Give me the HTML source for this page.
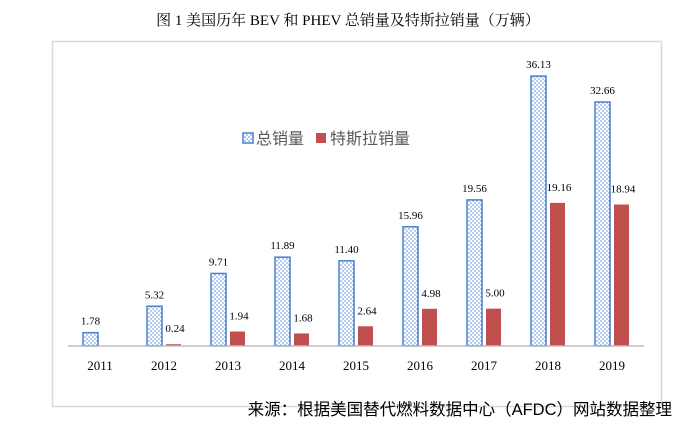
<!DOCTYPE html>
<html><head><meta charset="utf-8"><style>
body{margin:0;background:#fff;width:696px;height:432px;overflow:hidden;font-family:"Liberation Serif","Noto Serif CJK SC",serif;}
</style></head><body>
<svg width="696" height="432" xmlns="http://www.w3.org/2000/svg">
<defs>
<pattern id="dots" width="4" height="4" patternUnits="userSpaceOnUse">
<rect width="4" height="4" fill="#fff"/>
<circle cx="1" cy="1" r="0.7" fill="#4a7fd0"/>
<circle cx="3" cy="3" r="0.7" fill="#4a7fd0"/>
</pattern>
</defs>
<text x="348" y="25" text-anchor="middle" font-size="15" font-family="'Liberation Serif','Noto Serif CJK SC',serif" fill="#000">图 1 美国历年 BEV 和 PHEV 总销量及特斯拉销量（万辆）</text>
<rect x="52.5" y="41.5" width="609" height="365" fill="none" stroke="#d9d9d9" stroke-width="1.5"/>
<g id="plot"></g>
<g>
<rect x="243" y="133" width="10" height="10" fill="url(#dots)" stroke="#4a7fd0" stroke-width="1.5"/>
<text x="256" y="144" font-size="16" font-family="'Liberation Sans','Noto Sans CJK SC',sans-serif" fill="#595959">总销量</text>
<rect x="316" y="133" width="10" height="10" fill="#c0504d"/>
<text x="330" y="144" font-size="16" font-family="'Liberation Sans','Noto Sans CJK SC',sans-serif" fill="#595959">特斯拉销量</text>
</g>
<text x="672" y="415" text-anchor="end" font-size="16.5" font-family="'Liberation Sans','Noto Sans CJK SC',sans-serif" fill="#000">来源：根据美国替代燃料数据中心（AFDC）网站数据整理</text>
</svg>
<script>
const categories=["2011","2012","2013","2014","2015","2016","2017","2018","2019"];
const totalSales=[1.78,5.32,9.71,11.89,11.40,15.96,19.56,36.13,32.66];
const teslaSales=[null,0.24,1.94,1.68,2.64,4.98,5.00,19.16,18.94];
const NS="http://www.w3.org/2000/svg";
const g=document.getElementById('plot');
const x0=68,x1=644,base=346,scale=7.47;
const step=(x1-x0)/categories.length;
const xc=i=>x0+step*(i+0.5);
const y=v=>base-v*scale;
function mk(t,a){const e=document.createElementNS(NS,t);for(const k in a)e.setAttribute(k,a[k]);g.appendChild(e);return e;}
categories.forEach((c,i)=>{
  const cx=xc(i);
  const tv=totalSales[i];
  const b=mk('rect',{x:cx-17,y:y(tv),width:15,height:tv*scale,fill:'url(#dots)',stroke:'#4a7fd0','stroke-width':1.5});
  
  
  const l=mk('text',{x:cx-9.5,y:y(tv)-8,'text-anchor':'middle','font-size':11,fill:'#000'});
  l.textContent=tv.toFixed(2);
  
  
  const rv=teslaSales[i];
  if(rv!==null){
    const r=mk('rect',{x:cx+2,y:y(rv),width:15,height:Math.max(rv*scale,1.5),fill:'#c0504d'});
    
    
    const rl=mk('text',{x:cx+11,y:y(rv)-12,'text-anchor':'middle','font-size':11,fill:'#000'});
    rl.textContent=rv.toFixed(2);
    
    
  }
  const t=mk('text',{x:cx,y:370,'text-anchor':'middle','font-size':13,fill:'#000'});
  t.textContent=c;
  
  
});
const ax=mk('line',{x1:x0,x2:x1,y1:base,y2:base,stroke:'#bfbfbf','stroke-width':1.5});


</script>
</body></html>
